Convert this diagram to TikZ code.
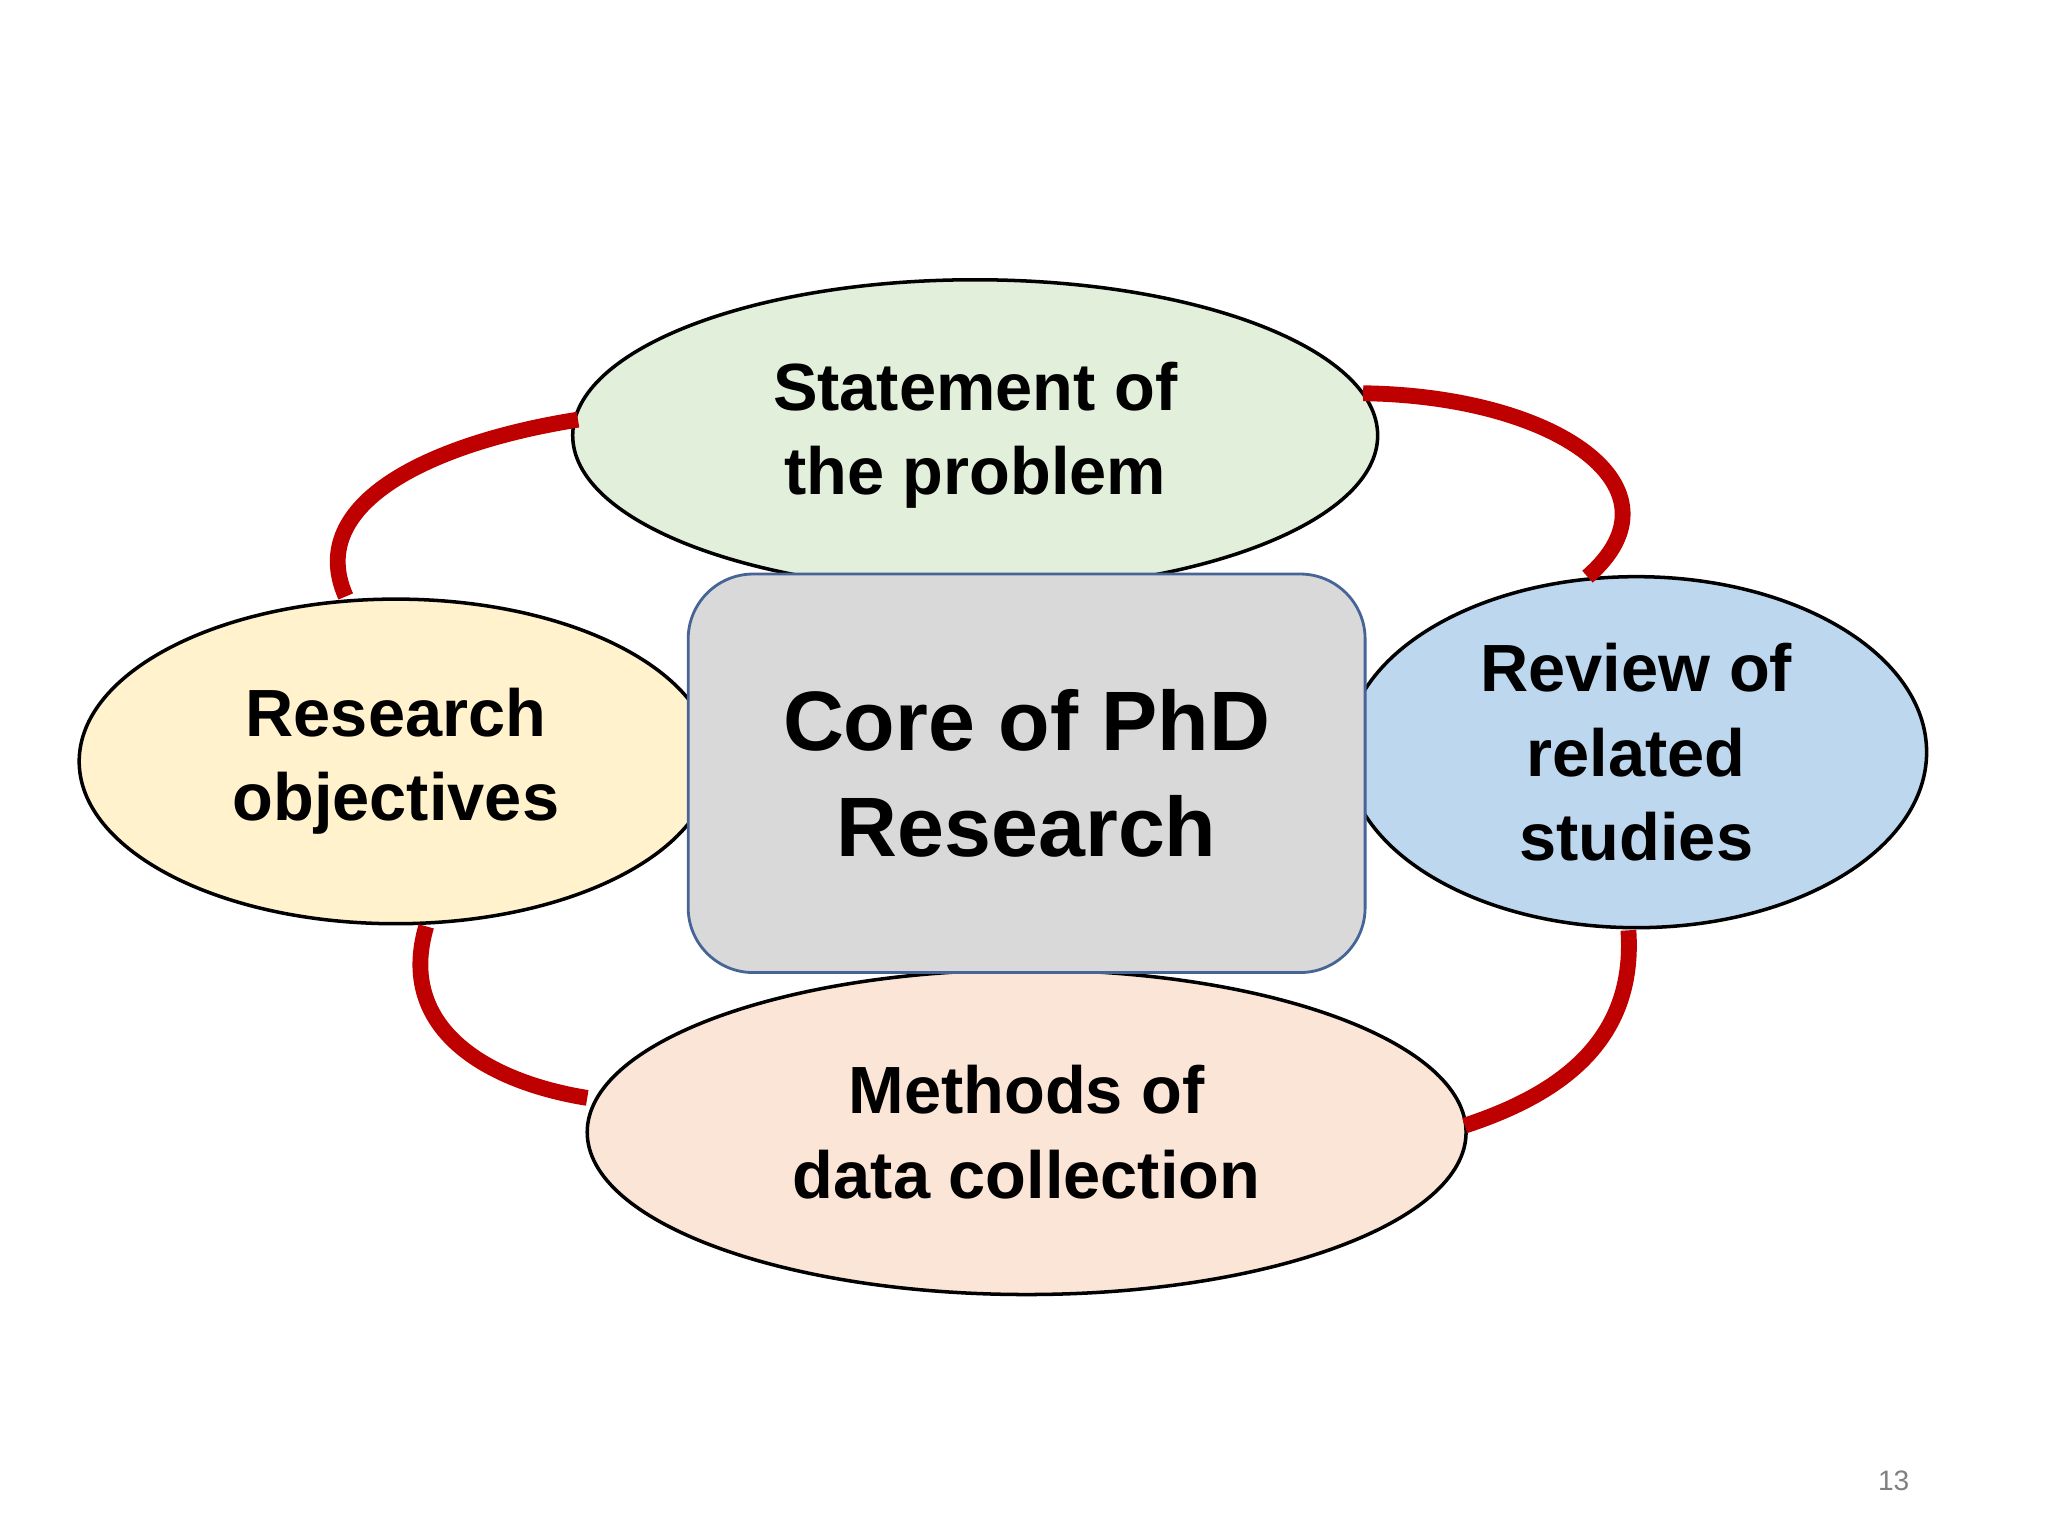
\documentclass[tikz,border=0pt]{standalone}
\usepackage{fontspec}
\setmainfont{Liberation Sans}
\usetikzlibrary{shapes.geometric}
\begin{document}
\begin{tikzpicture}[x=0.0132cm,y=-0.0132cm,
  ell/.style={ellipse,draw=black,line width=1pt,inner sep=0pt,align=center,font=\bfseries\fontsize{19}{24}\selectfont},
  link/.style={draw=red!75!black,line width=4.5pt}]
\useasboundingbox (0,0) rectangle (1552,1164);
\node[ell,fill={rgb,255:red,226;green,239;blue,218},minimum width=610*0.0132cm,minimum height=236*0.0132cm] (top) at (739,330) {Statement of\\the problem};
\node[ell,fill={rgb,255:red,255;green,242;blue,204},minimum width=480*0.0132cm,minimum height=246*0.0132cm] (left) at (300,577) {Research\\objectives};
\node[ell,fill={rgb,255:red,189;green,215;blue,238},minimum width=440*0.0132cm,minimum height=266*0.0132cm] (right) at (1240,570) {Review of\\related\\studies};
\node[ell,fill={rgb,255:red,251;green,229;blue,214},minimum width=666*0.0132cm,minimum height=246*0.0132cm] (bot) at (778,858) {Methods of\\data collection};
\node[draw={rgb,255:red,70;green,100;blue,150},fill={rgb,255:red,217;green,217;blue,217},rounded corners=0.65cm,line width=0.8pt,minimum width=513*0.0132cm,minimum height=302*0.0132cm,align=center,font=\bfseries\fontsize{24}{30}\selectfont] (core) at (778,586) {Core of PhD\\Research};
\coordinate (a1) at (438,318); \coordinate (a2) at (262,452);
\coordinate (b1) at (1033,298); \coordinate (b2) at (1203,437);
\coordinate (c1) at (1234,705); \coordinate (c2) at (1110,853);
\coordinate (d1) at (323,702); \coordinate (d2) at (445,832);
\draw[link] (a1) .. controls (330,335) and (230,380) .. (a2);
\draw[link] (b1) .. controls (1180,300) and (1280,370) .. (b2);
\draw[link] (c1) .. controls (1240,790) and (1180,830) .. (c2);
\draw[link] (d1) .. controls (300,780) and (370,820) .. (d2);
\node[text=gray,font=\fontsize{8}{10}\selectfont] (pg) at (1435,1122) {13};
\end{tikzpicture}
\end{document}
